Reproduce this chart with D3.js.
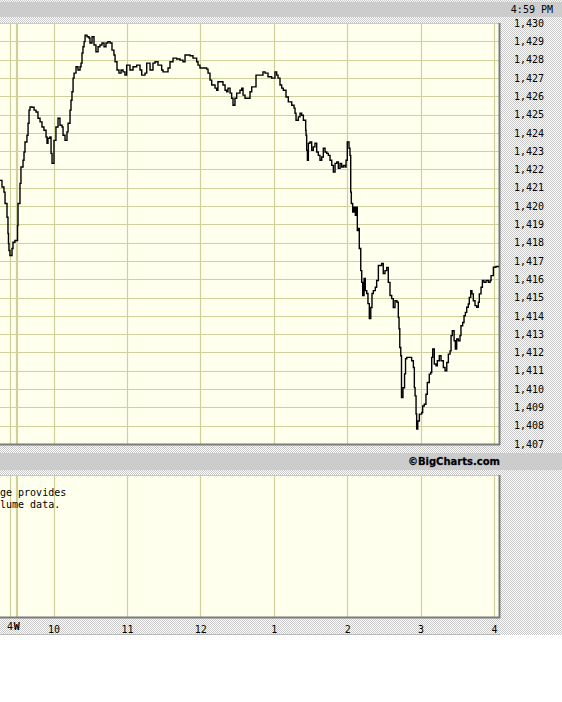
<!DOCTYPE html>
<html><head><meta charset="utf-8">
<script src="https://cdn.jsdelivr.net/npm/d3@7"></script>
<style>
html,body{margin:0;padding:0;background:#fff;}
svg{display:block;}
text{font-family:"DejaVu Sans Mono",monospace;font-size:10px;fill:#000;}
</style></head>
<body>
<script>
// minutes since 9:00 AM
const times = [16.3,17.9,19.5,20.4,22.0,22.8,23.2,23.6,24.4,26.1,26.9,28.5,30.2,30.6,31.0,32.6,33.4,35.1,35.9,36.7,38.3,39.2,40.0,40.8,42.4,44.1,45.7,47.3,49.0,50.6,52.2,53.9,54.7,55.5,57.1,58.0,58.8,60.4,62.0,63.7,65.3,67.0,67.8,69.4,71.0,71.9,73.5,74.3,75.1,76.0,76.8,78.4,80.0,81.7,82.5,83.3,84.1,85.0,85.8,87.4,89.0,89.8,91.5,93.1,94.7,96.4,98.0,99.6,101.3,102.9,104.5,106.2,107.8,109.4,110.3,111.9,113.5,115.2,116.8,118.4,119.8,122.5,125.0,128.0,130.7,132.1,134.8,136.2,138.9,141.3,143.0,145.4,148.4,149.5,152.5,153.6,155.2,157.7,160.7,163.4,165.8,167.5,168.9,171.6,174.0,177.0,178.1,179.7,182.2,185.2,186.3,187.9,189.3,192.0,193.4,194.4,197.5,198.5,200.2,201.5,202.6,204.3,205.6,206.7,208.3,209.7,212.4,213.8,214.9,216.5,219.0,220.6,222.0,224.7,225.5,228.8,231.2,232.9,235.3,238.3,239.4,241.0,242.4,243.5,245.1,246.5,247.8,250.0,251.9,254.7,256.6,257.4,258.2,260.1,261.5,262.8,264.2,265.6,266.1,266.4,266.9,267.5,268.3,269.6,271.0,272.3,273.7,275.1,276.4,277.8,279.2,280.5,281.9,283.3,284.6,286.0,287.4,288.7,290.1,291.5,292.8,294.2,295.5,296.9,298.3,299.1,300.1,301.5,302.3,302.9,303.4,304.5,305.6,306.7,307.8,308.3,309.4,309.9,311.1,311.9,312.7,313.8,314.8,316.0,317.0,318.1,319.3,320.3,321.4,323.0,324.1,325.5,328.2,329.5,330.9,332.3,333.6,335.0,336.4,337.7,339.1,340.7,341.8,342.4,343.0,343.8,344.4,345.6,346.9,347.7,348.7,350.8,352.7,354.1,354.9,355.5,356.3,356.8,357.7,359.0,360.9,361.7,363.0,364.4,365.5,367.1,368.3,369.1,369.9,371.2,372.6,373.7,375.3,376.7,378.6,380.0,381.4,382.7,384.1,384.9,385.9,387.4,388.4,389.5,390.8,392.2,393.0,394.4,395.5,396.6,397.7,399.0,399.8,401.0,402.0,403.1,404.5,405.9,407.2,408.0,409.4,410.5,411.8,413.5,415.4,416.8,417.6,419.5,421.6,424.1];
const prices = [1421.40,1421.04,1420.76,1420.14,1419.39,1418.50,1417.95,1417.57,1417.30,1417.68,1418.02,1418.12,1418.12,1418.94,1420.14,1421.24,1422.13,1422.50,1422.95,1423.50,1423.87,1424.52,1425.24,1425.42,1425.40,1425.24,1425.14,1424.80,1424.60,1424.32,1424.14,1423.77,1423.43,1423.70,1423.77,1422.88,1422.33,1423.59,1424.32,1424.80,1424.41,1424.32,1423.87,1423.59,1424.05,1424.52,1425.24,1425.78,1426.24,1426.99,1427.26,1427.61,1427.43,1427.61,1427.81,1428.36,1428.70,1428.98,1429.34,1429.25,1429.18,1428.91,1429.25,1428.80,1428.43,1428.70,1428.80,1428.91,1428.70,1428.91,1428.98,1428.91,1428.52,1428.25,1427.88,1427.43,1427.26,1427.43,1427.33,1427.15,1427.70,1427.43,1427.61,1427.70,1427.43,1427.15,1427.26,1427.81,1427.43,1427.81,1427.88,1427.70,1427.43,1427.33,1427.33,1427.54,1427.88,1428.08,1428.03,1427.97,1427.88,1428.25,1428.25,1428.21,1428.08,1427.88,1427.70,1427.54,1427.54,1427.48,1427.26,1426.88,1426.61,1426.44,1426.33,1426.79,1426.79,1426.61,1426.33,1426.24,1426.44,1426.17,1425.89,1425.51,1425.89,1426.17,1426.33,1426.44,1426.06,1425.89,1425.89,1426.24,1426.51,1426.51,1427.15,1427.15,1427.33,1427.26,1427.06,1426.99,1426.99,1427.33,1427.15,1426.99,1426.61,1426.44,1426.33,1425.96,1425.69,1425.51,1425.35,1425.07,1424.69,1424.87,1425.07,1424.96,1424.69,1424.69,1424.14,1423.87,1423.05,1422.50,1423.43,1423.50,1423.05,1423.23,1423.43,1422.95,1422.77,1422.50,1422.68,1423.16,1422.95,1422.88,1422.77,1422.50,1422.22,1421.86,1422.33,1422.41,1422.06,1422.33,1422.13,1422.22,1422.13,1422.50,1423.50,1423.16,1422.77,1420.76,1420.14,1419.67,1419.94,1419.49,1419.94,1418.66,1418.77,1417.68,1416.47,1415.83,1415.11,1416.04,1415.38,1415.22,1414.67,1413.85,1414.46,1415.22,1415.38,1415.56,1415.93,1416.75,1416.86,1416.31,1416.47,1416.64,1415.83,1415.11,1414.94,1414.46,1414.83,1414.74,1413.92,1413.30,1412.27,1411.82,1409.54,1410.07,1410.83,1411.66,1411.73,1411.73,1411.55,1411.18,1410.08,1409.63,1408.64,1407.82,1408.26,1408.63,1408.72,1409.08,1409.17,1409.72,1410.36,1410.82,1410.91,1411.73,1412.19,1411.37,1411.27,1411.55,1411.82,1411.55,1411.18,1411.00,1411.45,1411.91,1412.09,1412.92,1413.19,1412.64,1412.19,1412.74,1412.64,1412.92,1413.46,1413.64,1414.01,1414.19,1414.47,1414.65,1415.01,1415.38,1415.20,1414.83,1414.56,1414.47,1414.74,1415.20,1415.56,1415.93,1415.83,1415.93,1415.83,1415.93,1416.20,1416.66,1416.70,1416.70];
const priceTicks = d3.range(1407, 1431);
const hourTicks = [60, 120, 180, 240, 300, 360, 420];
const hourLabels = ["10", "11", "12", "1", "2", "3", "4"];
const extraLines = [24.4, 29.0, 30.2];
const extraLabels = [{t: 24.4, s: "4", bold: false}, {t: 30.0, s: "W", bold: true}];
const timeStamp = "4:59 PM";
const credit = "\u00A9BigCharts.com";
const volNote = ["ge provides", "lume data."];

const W = 562, H = 702;
const plot = {l: 0, r: 500, t: 23, b: 444};
const vol = {t: 475, b: 618};

const svg = d3.select("body").append("svg").attr("width", W).attr("height", H);
const defs = svg.append("defs");
const pat = defs.append("pattern").attr("id", "dots").attr("width", 2).attr("height", 2).attr("patternUnits", "userSpaceOnUse");
pat.append("rect").attr("width", 2).attr("height", 2).attr("fill", "#ffffff");
pat.append("rect").attr("x", 0).attr("y", 0).attr("width", 1).attr("height", 1).attr("fill", "#c8c8c8");
pat.append("rect").attr("x", 1).attr("y", 1).attr("width", 1).attr("height", 1).attr("fill", "#c8c8c8");
defs.append("clipPath").attr("id", "pclip").append("rect")
  .attr("x", plot.l).attr("y", plot.t).attr("width", plot.r - plot.l).attr("height", plot.b - plot.t);

// background
svg.append("rect").attr("width", W).attr("height", 635).attr("fill", "url(#dots)");
svg.append("line").attr("x1", 0).attr("x2", 500).attr("y1", 634.5).attr("y2", 634.5).attr("stroke", "#b8b8b8");
svg.append("rect").attr("x", 0).attr("y", 2).attr("width", W).attr("height", 15).attr("fill", "#cccccc");
svg.append("rect").attr("x", 0).attr("y", 453).attr("width", W).attr("height", 17).attr("fill", "#cccccc");

const x = d3.scaleLinear().domain([60, 420]).range([53.5, 494]);
const y = d3.scaleLinear().domain([1407, 1430]).range([plot.b, plot.t]);

const gridColor = "#d0d09c";
function panel(top, bottom, hGrid) {
  const g = svg.append("g");
  g.append("rect").attr("x", plot.l).attr("y", top).attr("width", plot.r - plot.l).attr("height", bottom - top).attr("fill", "#ffffee");
  if (hGrid) {
    g.selectAll("line.h").data(priceTicks).join("line").attr("class", "h")
      .attr("x1", plot.l).attr("x2", plot.r).attr("y1", d => Math.round(y(d)) + 0.5).attr("y2", d => Math.round(y(d)) + 0.5)
      .attr("stroke", gridColor).attr("stroke-width", 1.2);
  } else {
    g.append("line").attr("x1", plot.l).attr("x2", plot.r).attr("y1", top + 0.5).attr("y2", top + 0.5).attr("stroke", gridColor);
  }
  g.selectAll("line.v").data(hourTicks.concat(extraLines)).join("line").attr("class", "v")
    .attr("x1", d => Math.round(x(d)) + 0.5).attr("x2", d => Math.round(x(d)) + 0.5)
    .attr("y1", top).attr("y2", bottom).attr("stroke", gridColor).attr("stroke-width", 1.2);
  // 3D border: dark right and bottom
  g.append("line").attr("x1", plot.r - 0.5).attr("x2", plot.r - 0.5).attr("y1", top).attr("y2", bottom).attr("stroke", "#7a7a7a").attr("stroke-width", 2);
  g.append("line").attr("x1", plot.l).attr("x2", plot.r).attr("y1", bottom - 0.5).attr("y2", bottom - 0.5).attr("stroke", "#7a7a7a").attr("stroke-width", 2);
  return g;
}
panel(plot.t, plot.b + 1, true);
const vg = panel(vol.t, vol.b, false);

// price line
const line = d3.line().x(d => x(d[0])).y(d => y(d[1])).curve(d3.curveStepAfter);
const pts = times.map((t, i) => [t, prices[i]]);
svg.append("path").datum(pts).attr("d", line).attr("clip-path", "url(#pclip)")
  .attr("fill", "none").attr("stroke", "#000").attr("stroke-width", 1.4).attr("stroke-linejoin", "miter");

// y axis
const yAxis = d3.axisRight(y).tickValues(priceTicks).tickSize(0).tickPadding(14).tickFormat(d3.format(","));
const ya = svg.append("g").attr("transform", `translate(${plot.r},0)`).call(yAxis);
ya.select(".domain").remove();
ya.selectAll("text").attr("font-family", "DejaVu Sans Mono").attr("font-size", 10).attr("fill", "#000");

// x axis
const xAxis = d3.axisBottom(x).tickValues(hourTicks).tickSize(0).tickPadding(8).tickFormat((d, i) => hourLabels[i]);
const xa = svg.append("g").attr("transform", `translate(0,${vol.b})`).call(xAxis);
xa.select(".domain").remove();
xa.selectAll("text").attr("font-family", "DejaVu Sans Mono").attr("font-size", 10).attr("fill", "#000");
svg.selectAll("text.xl").data(extraLabels).join("text").attr("class", "xl")
  .attr("x", d => x(d.t)).attr("y", 630).attr("text-anchor", "middle")
  .attr("font-weight", d => d.bold ? "bold" : "normal").text(d => d.s);

// texts
svg.append("text").attr("x", 553).attr("y", 13).attr("text-anchor", "end").text(timeStamp);
svg.append("text").attr("x", 500).attr("y", 465).attr("text-anchor", "end")
  .style("font-family", "'DejaVu Sans', Verdana, sans-serif").style("font-weight", "bold").style("font-size", "10px")
  .attr("fill", "#f4f4f4").attr("stroke", "#8a8a8a").attr("stroke-width", 0.6).attr("paint-order", "stroke").text(credit);
vg.selectAll("text.vn").data(volNote).join("text").attr("class", "vn")
  .attr("x", 0).attr("y", (d, i) => 496 + i * 12).text(d => d);
</script>
</body></html>
